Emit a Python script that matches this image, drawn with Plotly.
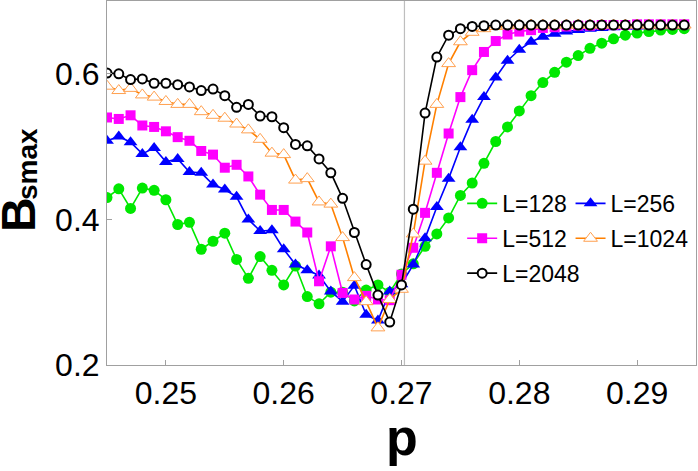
import plotly.graph_objects as go

p = [0.245, 0.246, 0.247, 0.248, 0.249, 0.250, 0.251, 0.252, 0.253, 0.254,
     0.255, 0.256, 0.257, 0.258, 0.259, 0.260, 0.261, 0.262, 0.263, 0.264,
     0.265, 0.266, 0.267, 0.268, 0.269, 0.270, 0.271, 0.272, 0.273, 0.274,
     0.275, 0.276, 0.277, 0.278, 0.279, 0.280, 0.281, 0.282, 0.283, 0.284,
     0.285, 0.286, 0.287, 0.288, 0.289, 0.290, 0.291, 0.292, 0.293, 0.294]

b_L128 = [0.430, 0.442, 0.415, 0.443, 0.440, 0.427, 0.393, 0.396, 0.359, 0.370,
          0.381, 0.345, 0.319, 0.349, 0.330, 0.310, 0.336, 0.294, 0.284, 0.300,
          0.300, 0.288, 0.303, 0.310, 0.300, 0.325, 0.339, 0.363, 0.380, 0.402,
          0.433, 0.450, 0.477, 0.507, 0.527, 0.549, 0.570, 0.588, 0.602, 0.616,
          0.625, 0.635, 0.642, 0.648, 0.653, 0.656, 0.658, 0.660, 0.661, 0.662]

b_L256 = [0.508, 0.514, 0.506, 0.490, 0.498, 0.479, 0.483, 0.465, 0.464, 0.448,
          0.441, 0.431, 0.400, 0.384, 0.385, 0.359, 0.338, 0.330, 0.323, 0.301,
          0.287, 0.309, 0.269, 0.261, 0.301, 0.311, 0.338, 0.374, 0.417, 0.456,
          0.499, 0.537, 0.568, 0.595, 0.618, 0.633, 0.644, 0.651, 0.655, 0.658,
          0.660, 0.662, 0.663, 0.664, 0.665, 0.665, 0.666, 0.666, 0.666, 0.667]

b_L512 = [0.540, 0.538, 0.543, 0.529, 0.527, 0.521, 0.513, 0.508, 0.494, 0.489,
          0.471, 0.475, 0.459, 0.434, 0.413, 0.413, 0.397, 0.382, 0.315, 0.363,
          0.299, 0.290, 0.295, 0.290, 0.289, 0.324, 0.361, 0.409, 0.464, 0.518,
          0.568, 0.605, 0.630, 0.645, 0.654, 0.658, 0.660, 0.663, 0.664, 0.665,
          0.666, 0.666, 0.667, 0.667, 0.667, 0.668, 0.668, 0.668, 0.668, 0.668]

b_L1024 = [0.583, 0.577, 0.580, 0.571, 0.568, 0.562, 0.558, 0.558, 0.548, 0.543,
           0.539, 0.531, 0.523, 0.510, 0.491, 0.489, 0.454, 0.456, 0.424, 0.421,
           0.375, 0.320, 0.287, 0.251, 0.290, 0.304, 0.380, 0.480, 0.558, 0.614,
           0.644, 0.657, 0.662, 0.665, 0.666, 0.667, 0.667, 0.667, 0.667, 0.667,
           0.667, 0.667, 0.667, 0.667, 0.667, 0.667, 0.667, 0.667, 0.667, 0.667]

b_L2048 = [0.601, 0.600, 0.592, 0.593, 0.587, 0.587, 0.585, 0.582, 0.577, 0.579,
           0.570, 0.554, 0.558, 0.542, 0.541, 0.526, 0.503, 0.501, 0.483, 0.464,
           0.429, 0.382, 0.338, 0.296, 0.259, 0.310, 0.414, 0.546, 0.623, 0.653,
           0.662, 0.665, 0.666, 0.667, 0.667, 0.667, 0.667, 0.667, 0.667, 0.667,
           0.667, 0.667, 0.667, 0.667, 0.667, 0.667, 0.667, 0.667, 0.667, 0.667]

p_c = 0.27025
x_ticks = [0.25, 0.26, 0.27, 0.28, 0.29]
x_ticklabels = ["0.25", "0.26", "0.27", "0.28", "0.29"]
y_ticks = [0.2, 0.4, 0.6]
y_ticklabels = ["0.2", "0.4", "0.6"]

GREEN = "rgb(0,232,0)"
BLUE = "rgb(0,0,255)"
MAGENTA = "rgb(255,0,255)"
ORANGE = "rgb(255,128,0)"
ORANGE_LIGHT = "rgb(255,160,80)"
BLACK = "rgb(0,0,0)"
FONT = "Liberation Sans, Arial, sans-serif"

fig = go.Figure()

series = [
    ("L=128", b_L128, dict(color=GREEN, width=1.6),
     dict(symbol="circle", size=11, color=GREEN, line=dict(width=0)), "legend", "g1"),
    ("L=256", b_L256, dict(color=BLUE, width=1.6),
     dict(symbol="triangle-up", size=12, color=BLUE, line=dict(width=0)), "legend2", "g2"),
    ("L=512", b_L512, dict(color=MAGENTA, width=1.6),
     dict(symbol="square", size=10, color=MAGENTA, line=dict(width=0)), "legend", "g3"),
    ("L=1024", b_L1024, dict(color=ORANGE, width=1.6),
     dict(symbol="triangle-up", size=12, color="white", line=dict(width=1, color=ORANGE_LIGHT)), "legend2", "g4"),
    ("L=2048", b_L2048, dict(color=BLACK, width=1.6),
     dict(symbol="circle", size=9, color="white", line=dict(width=2, color=BLACK)), "legend", "g5"),
]

for name, vals, line, marker, leg, grp in series:
    fig.add_trace(go.Scatter(
        x=p, y=vals, mode="lines+markers", name=name,
        line=line, marker=marker, legend=leg, legendgroup=grp,
    ))

fig.add_shape(type="line", x0=p_c, x1=p_c, y0=0, y1=1, xref="x", yref="paper",
              line=dict(color="rgb(190,190,190)", width=1.2), layer="below")

axis_common = dict(
    showgrid=False, zeroline=False, showline=True, mirror=True,
    linecolor="rgb(160,160,160)", linewidth=1,
    ticks="inside", ticklen=5, tickcolor="rgb(160,160,160)",
    tickfont=dict(family=FONT, size=32, color="black"),
)

fig.update_layout(
    width=698, height=471,
    margin=dict(l=107, r=2, t=1, b=106, autoexpand=False),
    paper_bgcolor="white", plot_bgcolor="white",
    xaxis=dict(range=[0.245, 0.295], tickvals=x_ticks, ticktext=x_ticklabels, **axis_common),
    yaxis=dict(range=[0.2, 0.7], tickvals=y_ticks, ticktext=y_ticklabels, **axis_common),
    legend=dict(x=0.603, y=0.503, xanchor="left", yanchor="top",
                bgcolor="rgba(0,0,0,0)", traceorder="grouped", tracegroupgap=2,
                font=dict(family=FONT, size=23, color="black")),
    legend2=dict(x=0.787, y=0.503, xanchor="left", yanchor="top",
                 bgcolor="rgba(0,0,0,0)", traceorder="grouped", tracegroupgap=2,
                 font=dict(family=FONT, size=23, color="black")),
    showlegend=True,
)

fig.add_annotation(text="<b>p</b>", xref="paper", yref="paper", x=0.5, y=-0.112,
                   xanchor="center", yanchor="top", showarrow=False,
                   font=dict(family=FONT, size=52, color="black"))
fig.add_annotation(text="<b>B</b>", xref="paper", yref="paper",
                   x=-0.151, y=0.412, xanchor="center", yanchor="middle", showarrow=False,
                   textangle=-90,
                   font=dict(family=FONT, size=48, color="black"))
fig.add_annotation(text="<b>smax</b>", xref="paper", yref="paper",
                   x=-0.136, y=0.552, xanchor="center", yanchor="middle", showarrow=False,
                   textangle=-90,
                   font=dict(family=FONT, size=28, color="black"))

fig.write_html("out.html", config={"displayModeBar": False},
               post_script="document.body.style.margin='0';document.body.style.overflow='hidden';")
